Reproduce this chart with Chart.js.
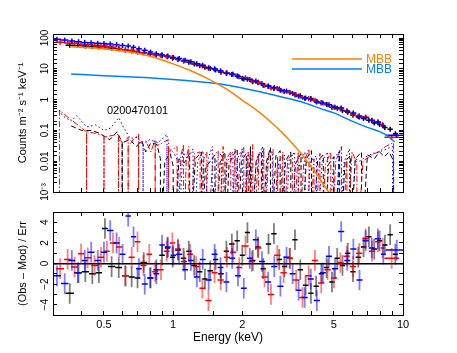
<!DOCTYPE html>
<html>
<head>
<meta charset="utf-8">
<script src="https://cdn.jsdelivr.net/npm/chart.js@4/dist/chart.umd.min.js"></script>
<style>
  html, body { margin: 0; padding: 0; background: #fff; }
  .wrap { position: relative; width: 457px; height: 353px; }
  canvas { position: absolute; left: 0; }
  #spec { top: 0; }
  #resid { top: 200px; }
</style>
</head>
<body>
<div class="wrap">
  <canvas id="spec" width="457" height="200"></canvas>
  <canvas id="resid" width="457" height="153"></canvas>
</div>
<script>
const FONT = "'Liberation Sans', Arial, Helvetica, sans-serif";
const INK = "#000";
const FLOOR = 1e-5; // empty background bins fall below the axis

// axis ticks
const xTicks = [0.5, 1, 2, 5, 10];
const xTickLabels = ["0.5", "1", "2", "5", "10"];
const specTicks = [0.001, 0.01, 0.1, 1, 10, 100];
const specTickLabels = ["10⁻³", "0.01", "0.1", "1", "10", "100"];
const residTicks = [-4, -2, 0, 2, 4];
const residTickLabels = ["−4", "−2", "0", "2", "4"];

const obsId = "0200470101";
const modelNames = ["MBB", "MBB"];
const modelColors = ["rgb(255,128,0)", "rgb(0,128,255)"];

// black spectrum: bin edges (keV), counts, residuals
const blackEdges = [0.34, 0.37, 0.40, 0.43, 0.46, 0.49, 0.52, 0.56, 0.60, 0.64,
  0.68, 0.72, 0.77, 0.82, 0.87, 0.92, 0.97, 1.02, 1.08, 1.14,
  1.20, 1.27, 1.34, 1.41, 1.49, 1.57, 1.66, 1.75, 1.85, 1.95,
  2.05, 2.16, 2.28, 2.40, 2.53, 2.67, 2.82, 2.97, 3.13, 3.30,
  3.48, 3.67, 3.87, 4.08, 4.30, 4.53, 4.78, 5.04, 5.31, 5.60,
  5.90, 6.22, 6.56, 6.92, 7.30, 7.70, 8.12, 8.56, 9.03, 9.50];
const blackFlux = [58, 57, 55, 53, 51, 52, 47, 45, 41, 38,
  35, 33.5, 30, 28, 26.5, 24.5, 22, 20, 18, 16.3,
  14.2, 12.8, 11.3, 10.2, 9.2, 7.8, 7.3, 6.5, 5.8, 4.9,
  4.6, 3.8, 3.5, 2.9, 2.75, 2.3, 2.2, 1.85, 1.7, 1.45,
  1.33, 1.12, 1.08, 0.88, 0.8, 0.7, 0.57, 0.52, 0.44, 0.39,
  0.31, 0.28, 0.245, 0.215, 0.175, 0.155, 0.125, 0.11, 0.078];
const blackResid = [-2.9, -0.9, -0.8, -1.0, -0.9, 3.4, -0.3, -0.4, -1.2, -1.3,
  -1.4, 0.1, -1.4, -0.6, 0.8, 1.5, 0.6, 1.3, 0.5, 1.2,
  -0.2, -0.8, -1.5, -0.7, 0.4, -1.0, 1.2, 1.9, 2.2, 0.8,
  3.0, 0.3, 1.6, -0.5, 1.9, 2.9, 0.4, -0.3, 0.5, 2.3,
  -0.6, -2.1, -2.9, -2.2, -1.0, -0.4, -1.8, 0.5, -0.2, 1.0,
  -0.8, 0.6, 1.6, 2.6, 1.4, 2.2, 1.8, 2.8, 0.9];

// red spectrum
const redEdges = [0.31, 0.335, 0.36, 0.385, 0.41, 0.44, 0.47, 0.50, 0.53, 0.565,
  0.60, 0.64, 0.68, 0.72, 0.765, 0.81, 0.86, 0.91, 0.965, 1.02,
  1.08, 1.15, 1.22, 1.30, 1.38, 1.47, 1.56, 1.66, 1.77, 1.88,
  2.00, 2.13, 2.27, 2.42, 2.58, 2.75, 2.93, 3.12, 3.32, 3.54,
  3.77, 4.01, 4.27, 4.55, 4.85, 5.17, 5.51, 5.87, 6.25, 6.66,
  7.10, 7.57, 8.0, 8.3, 9.6];
const redFlux = [73, 69, 67, 63, 60, 58, 55, 53, 50, 46,
  41, 40, 37, 33, 31.5, 28.5, 27, 25.5, 23.5, 20.8,
  18.4, 16.6, 14.3, 12.3, 10.4, 9.6, 8.1, 7.4, 6.6, 5.5,
  5.1, 4.1, 3.7, 2.9, 2.4, 2.3, 1.85, 1.72, 1.42, 1.18,
  1.08, 0.95, 0.78, 0.68, 0.57, 0.5, 0.43, 0.34, 0.3, 0.27,
  0.215, 0.19, 0.155, 0.06];
const redResid = [-0.5, 0.4, -0.35, 0.95, 0.55, -0.2, 0.6, 1.2, 2.0, 1.6,
  -1.2, 0.6, 2.1, -0.2, 0.9, -0.8, -0.6, 1.2, 2.0, 1.4,
  0.2, 0.9, -0.3, -2.4, -3.6, -0.9, -1.6, 0.6, 1.1, -0.4,
  1.7, 0.2, 1.5, -1.3, -3.0, 0.8, -0.9, 0.5, -1.6, -3.3,
  -1.2, 0.3, -1.9, -0.6, -1.4, 0.1, 0.7, -0.3, 1.0, 2.4,
  1.2, 2.1, 1.5, 0.5];

// blue spectrum
const blueEdges = [0.30, 0.325, 0.35, 0.375, 0.40, 0.425, 0.455, 0.485, 0.515, 0.55,
  0.585, 0.62, 0.655, 0.69, 0.73, 0.775, 0.82, 0.87, 0.92, 0.975,
  1.03, 1.095, 1.16, 1.23, 1.305, 1.385, 1.47, 1.56, 1.655, 1.755,
  1.86, 1.97, 2.09, 2.22, 2.36, 2.51, 2.67, 2.84, 3.02, 3.21,
  3.41, 3.62, 3.85, 4.09, 4.35, 4.62, 4.91, 5.22, 5.55, 5.90,
  6.27, 6.67, 7.09, 7.54, 8.02, 8.4, 10.5];
const blueFlux = [92, 86, 80, 76, 72, 70, 68, 66, 64, 61,
  57, 55, 50, 45, 40, 35, 31, 28.5, 26, 23.5,
  21.5, 18.8, 16.8, 14.5, 13.0, 10.9, 10.0, 8.6, 7.2, 6.7,
  5.7, 4.7, 4.5, 4.0, 3.3, 2.7, 2.45, 2.0, 1.9, 1.6,
  1.3, 1.1, 1.02, 0.83, 0.77, 0.68, 0.56, 0.53, 0.42, 0.37,
  0.27, 0.26, 0.21, 0.185, 0.14, 0.07];
const blueResid = [-1.2, -1.95, 0.3, -0.9, 0.3, 1.1, 0.3, 1.1, 3.2, 2.0,
  0.9, 4.6, 2.6, -0.5, -2.0, -1.4, -1.0, 1.8, 1.6, 0.8,
  0.9, -0.6, 0.3, -1.3, 0.4, -1.6, 0.9, -0.4, -1.8, 0.5,
  -1.2, -2.4, 0.5, 2.3, 0.2, -1.8, -0.3, -2.2, 0.6, -1.0,
  -2.6, -3.3, -1.5, -3.6, -0.9, 0.7, -0.5, 3.1, 0.3, 1.4,
  -1.6, 2.2, 1.5, 2.4, 0.9, 1.3];

// model components
const mbb1E = [0.36, 0.45, 0.55, 0.65, 0.8, 1.0, 1.2, 1.4, 1.6, 1.8, 2.0, 2.25,
  2.5, 2.75, 3.0, 3.25, 3.5, 3.75, 4.0, 4.25, 4.5, 4.75, 5.0];
const mbb1V = [52, 47, 41, 35, 25, 14.5, 8.5, 5.0, 2.9, 1.7, 0.95, 0.52,
  0.28, 0.15, 0.08, 0.043, 0.023, 0.012, 0.0065, 0.0035, 0.0018, 0.001, 0.00052];
const mbb2E = [0.36, 0.5, 0.7, 1.0, 1.3, 1.6, 2.0, 2.5, 3.0, 3.6, 4.36, 5.0,
  6.0, 7.0, 8.0, 8.6, 9.2];
const mbb2V = [6.8, 6.0, 5.3, 4.5, 3.8, 3.2, 2.4, 1.65, 1.2, 0.85, 0.52, 0.37,
  0.2, 0.125, 0.088, 0.065, 0.042];

// background spectra (0 = empty bin)
const bkgRedE = [0.32, 0.32, 0.36, 0.40, 0.42, 0.42, 0.42, 0.46, 0.50, 0.50,
  0.50, 0.55, 0.578, 0.578, 0.578, 0.61, 0.637, 0.637, 0.637, 0.67,
  0.707, 0.707, 0.707, 0.76, 0.80, 0.835, 0.835, 0.835, 0.90, 0.954,
  0.954, 0.954, 1.0, 1.04, 1.04, 1.08, 1.11, 1.11, 1.14, 1.17,
  1.17, 1.24, 1.31, 1.31, 1.36, 1.40, 1.40, 1.49, 1.57, 1.57,
  1.65, 1.65, 1.71, 1.78, 1.78, 1.86, 1.86, 1.95, 2.03, 2.03,
  2.12, 2.12, 2.22, 2.22, 2.35, 2.35, 2.48, 2.48, 2.6, 2.72,
  2.72, 2.85, 2.85, 3.0, 3.0, 3.15, 3.3, 3.3, 3.5, 3.5,
  3.7, 3.9, 3.9, 4.1, 4.1, 4.35, 4.35, 4.6, 4.85, 4.85,
  5.1, 5.4, 5.4, 5.7, 5.7, 6.0, 6.3, 6.3, 6.7, 7.2,
  7.8, 8.4, 9.1, 9.1];
const bkgRedV = [0, 0.45, 0.22, 0.12, 0.09, 0, 0.09, 0.08, 0.065, 0,
  0.06, 0.07, 0.075, 0, 0.05, 0.04, 0.06, 0, 0.03, 0.05,
  0.075, 0, 0.04, 0.045, 0.02, 0.05, 0, 0.03, 0.04, 0.05,
  0, 0.02, 0.025, 0.03, 0, 0.015, 0.035, 0, 0.012, 0.03,
  0, 0.018, 0.02, 0, 0.012, 0.02, 0, 0.014, 0.022, 0,
  0.03, 0, 0.012, 0.02, 0, 0.025, 0, 0.012, 0.03, 0,
  0.02, 0, 0.035, 0, 0.018, 0, 0.028, 0, 0.015, 0.024,
  0, 0.014, 0, 0.02, 0, 0.012, 0.016, 0, 0.02, 0,
  0.009, 0.025, 0, 0.012, 0, 0.018, 0, 0.008, 0.02, 0,
  0.01, 0.03, 0, 0.012, 0, 0.02, 0.009, 0, 0.01, 0.015,
  0.02, 0.03, 0.04, 0];

const bkgBlackE = [0.36, 0.40, 0.44, 0.48, 0.53, 0.57, 0.60, 0.60, 0.60, 0.65,
  0.69, 0.73, 0.76, 0.80, 0.85, 0.88, 0.88, 0.92, 0.97, 1.0,
  1.0, 1.06, 1.12, 1.18, 1.18, 1.25, 1.33, 1.33, 1.38, 1.45,
  1.52, 1.52, 1.6, 1.68, 1.68, 1.75, 1.82, 1.9, 1.9, 1.98,
  2.08, 2.08, 2.17, 2.17, 2.3, 2.42, 2.42, 2.55, 2.65, 2.65,
  2.8, 2.92, 2.92, 3.08, 3.25, 3.25, 3.4, 3.6, 3.6, 3.8,
  4.0, 4.0, 4.25, 4.5, 4.5, 4.75, 5.0, 5.0, 5.3, 5.3,
  5.6, 5.9, 5.9, 6.2, 6.6, 6.6, 7.0, 7.5, 7.9, 8.3,
  8.7, 9.1, 9.1];
const bkgBlackV = [0.14, 0.1, 0.1, 0.08, 0.05, 0.09, 0.04, 0, 0.04, 0.05,
  0.03, 0.045, 0.02, 0.04, 0.035, 0.012, 0, 0.01, 0.018, 0.007,
  0, 0.012, 0.009, 0.018, 0, 0.012, 0.02, 0, 0.006, 0.01,
  0.016, 0, 0.009, 0.02, 0, 0.008, 0.015, 0.025, 0, 0.01,
  0.018, 0, 0.03, 0, 0.012, 0.02, 0, 0.01, 0.028, 0,
  0.015, 0.022, 0, 0.01, 0.02, 0, 0.008, 0.018, 0, 0.012,
  0.022, 0, 0.01, 0.016, 0, 0.008, 0.014, 0, 0.022, 0,
  0.01, 0.015, 0, 0.012, 0.02, 0, 0.016, 0.012, 0.02, 0.014,
  0.02, 0.01, 0];

const bkgBlueE = [0.32, 0.33, 0.36, 0.38, 0.42, 0.46, 0.50, 0.535, 0.58, 0.61,
  0.65, 0.70, 0.74, 0.74, 0.74, 0.79, 0.86, 0.94, 0.94, 0.94,
  1.0, 1.05, 1.05, 1.1, 1.16, 1.22, 1.22, 1.28, 1.35, 1.35,
  1.42, 1.48, 1.48, 1.55, 1.62, 1.62, 1.72, 1.82, 1.82, 1.9,
  2.0, 2.0, 2.1, 2.18, 2.18, 2.3, 2.45, 2.45, 2.58, 2.7,
  2.7, 2.88, 3.05, 3.05, 3.2, 3.38, 3.38, 3.55, 3.75, 3.75,
  3.95, 4.2, 4.2, 4.45, 4.7, 4.7, 5.0, 5.25, 5.25, 5.55,
  5.85, 5.85, 6.2, 6.5, 6.9, 7.4, 7.9, 8.5, 9.0, 9.0];
const bkgBlueV = [0.46, 0.3, 0.2, 0.3, 0.13, 0.15, 0.1, 0.12, 0.26, 0.12,
  0.055, 0.06, 0.03, 0, 0.035, 0.05, 0.04, 0.075, 0, 0.03,
  0.02, 0.01, 0, 0.02, 0.012, 0.025, 0, 0.01, 0.022, 0,
  0.012, 0.03, 0, 0.012, 0.018, 0, 0.01, 0.02, 0, 0.012,
  0.025, 0, 0.014, 0.02, 0, 0.01, 0.03, 0, 0.012, 0.02,
  0, 0.01, 0.016, 0, 0.012, 0.02, 0, 0.008, 0.02, 0,
  0.01, 0.015, 0, 0.01, 0.02, 0, 0.012, 0.02, 0, 0.01,
  0.025, 0, 0.012, 0.01, 0.014, 0.018, 0.02, 0.025, 0.03, 0];

// ---------- helpers ----------
function pickLabel(ticks, labels) {
  return (value) => {
    const i = ticks.findIndex((t) => Math.abs(value - t) <= Math.abs(t) * 1e-6 + 1e-9);
    return i === -1 ? "" : labels[i];
  };
}

function centers(edges) {
  return edges.slice(0, -1).map((e, i) => Math.sqrt(e * edges[i + 1]));
}

function binBars(edges, vals) {
  const pts = [];
  vals.forEach((v, i) => {
    pts.push({ x: edges[i], y: v }, { x: edges[i + 1], y: v }, { x: edges[i + 1], y: null });
  });
  return pts;
}

// residuals are in units of sigma, so each bar spans +-1
function sigmaBars(edges, vals) {
  const c = centers(edges);
  const pts = [];
  vals.forEach((v, i) => {
    pts.push({ x: c[i], y: v - 1 }, { x: c[i], y: v + 1 }, { x: c[i], y: null });
  });
  return pts;
}

function curve(es, vs) {
  return es.map((e, i) => ({ x: e, y: vs[i] > 0 ? vs[i] : FLOOR }));
}

function lineSet(data, color, width, order, extra) {
  return Object.assign({
    type: "line",
    data,
    borderColor: color,
    borderWidth: width,
    pointRadius: 0,
    pointHoverRadius: 0,
    fill: false,
    tension: 0,
    spanGaps: false,
    order,
  }, extra || {});
}

function markSet(edges, flux, color, order) {
  const c = centers(edges);
  return {
    type: "line",
    data: c.map((x, i) => ({ x, y: flux[i] })),
    showLine: false,
    pointStyle: "line",
    pointRotation: 90,
    pointRadius: 2.5,
    pointHoverRadius: 0,
    pointBorderWidth: 1.5,
    pointBorderColor: color,
    pointBackgroundColor: color,
    order,
  };
}

function frame(type, position, min, max, step) {
  const horizontal = position === "top" || position === "bottom";
  return {
    type,
    position,
    min,
    max,
    border: { display: true, color: INK, width: 1 },
    grid: { drawOnChartArea: false, drawTicks: true, tickLength: -4, color: INK, tickColor: INK },
    ticks: { display: false, autoSkip: false, stepSize: step, maxRotation: 0, minRotation: 0 },
    afterFit(scale) {
      if (horizontal) scale.height = 0;
      else scale.width = 0;
    },
  };
}

const specNotes = {
  id: "specNotes",
  afterDraw(chart) {
    const { ctx, chartArea, scales } = chart;
    ctx.save();
    ctx.fillStyle = INK;
    ctx.font = `11px ${FONT}`;
    ctx.textAlign = "center";
    ctx.textBaseline = "middle";
    ctx.fillText(obsId, scales.x.getPixelForValue(0.70), scales.y.getPixelForValue(0.42));

    ctx.font = `12px ${FONT}`;
    ctx.textAlign = "left";
    modelNames.forEach((name, i) => {
      const y = chartArea.top + 25 + i * 10;
      ctx.strokeStyle = modelColors[i];
      ctx.lineWidth = 1.5;
      ctx.beginPath();
      ctx.moveTo(chartArea.right - 111, y);
      ctx.lineTo(chartArea.right - 41, y);
      ctx.stroke();
      ctx.fillStyle = modelColors[i];
      ctx.fillText(name, chartArea.right - 37, y + 0.5);
    });
    ctx.restore();
  },
};

// ---------- spectrum panel ----------
const specX = frame("logarithmic", "bottom", 0.3, 10);
const specY = {
  type: "logarithmic",
  position: "left",
  min: 0.001,
  max: 135,
  border: { display: true, color: INK, width: 1 },
  grid: { drawOnChartArea: false, drawTicks: true, tickLength: -4, color: INK, tickColor: INK },
  ticks: {
    autoSkip: false,
    color: INK,
    font: { family: FONT, size: 10 },
    minRotation: 90,
    maxRotation: 90,
    crossAlign: "center",
    padding: 2,
    callback: pickLabel(specTicks, specTickLabels),
  },
  title: {
    display: true,
    text: "Counts m⁻² s⁻¹ keV⁻¹",
    color: INK,
    font: { family: FONT, size: 11 },
    padding: { top: 16, bottom: 0 },
  },
  afterFit(scale) { scale.width = 53; },
};

new Chart(document.getElementById("spec"), {
  type: "line",
  data: {
    datasets: [
      lineSet(curve(mbb1E, mbb1V), modelColors[0], 1.5, 1, { cubicInterpolationMode: "monotone" }),
      lineSet(curve(mbb2E, mbb2V), modelColors[1], 1.5, 1, { cubicInterpolationMode: "monotone" }),
      lineSet(binBars(blueEdges, blueFlux), "#0000ff", 1.5, 3),
      markSet(blueEdges, blueFlux, "#0000ff", 3),
      lineSet(binBars(redEdges, redFlux), "#ff0000", 1.5, 4),
      markSet(redEdges, redFlux, "#ff0000", 4),
      lineSet(binBars(blackEdges, blackFlux), INK, 1.5, 5),
      markSet(blackEdges, blackFlux, INK, 5),
      lineSet(curve(bkgBlueE, bkgBlueV), "#0000ff", 1, 6, { borderDash: [1.5, 2.5] }),
      lineSet(curve(bkgRedE, bkgRedV), "#ff0000", 1, 6, { borderDash: [6, 2, 1.5, 2] }),
      lineSet(curve(bkgBlackE, bkgBlackV), INK, 1, 6, { borderDash: [5, 3] }),
    ],
  },
  options: {
    responsive: false,
    animation: false,
    devicePixelRatio: 1,
    events: [],
    layout: { padding: { top: 34, right: 54, bottom: 5, left: 0 } },
    plugins: { legend: { display: false }, tooltip: { enabled: false } },
    scales: {
      x: specX,
      x2: frame("logarithmic", "top", 0.3, 10),
      y: specY,
      y2: frame("logarithmic", "right", 0.001, 135),
    },
  },
  plugins: [specNotes],
});

// ---------- residual panel ----------
new Chart(document.getElementById("resid"), {
  type: "line",
  data: {
    datasets: [
      lineSet(binBars(blueEdges, blueResid), "#0000ff", 1.5, 1),
      lineSet(sigmaBars(blueEdges, blueResid), "rgba(0,0,255,0.5)", 1.8, 2),
      lineSet(binBars(redEdges, redResid), "#ff0000", 1.5, 3),
      lineSet(sigmaBars(redEdges, redResid), "rgba(255,0,0,0.5)", 1.8, 4),
      lineSet(binBars(blackEdges, blackResid), INK, 1.5, 5),
      lineSet(sigmaBars(blackEdges, blackResid), "rgba(0,0,0,0.5)", 1.8, 6),
    ],
  },
  options: {
    responsive: false,
    animation: false,
    devicePixelRatio: 1,
    events: [],
    layout: { padding: { top: 9, right: 54, bottom: 0, left: 0 } },
    plugins: { legend: { display: false }, tooltip: { enabled: false } },
    scales: {
      x: {
        type: "logarithmic",
        position: "bottom",
        min: 0.3,
        max: 10,
        border: { display: true, color: INK, width: 1 },
        grid: { drawOnChartArea: false, drawTicks: true, tickLength: -4, color: INK, tickColor: INK },
        ticks: {
          autoSkip: false,
          color: INK,
          font: { family: FONT, size: 11 },
          maxRotation: 0,
          minRotation: 0,
          padding: 7,
          callback: pickLabel(xTicks, xTickLabels),
        },
        title: {
          display: true,
          text: "Energy (keV)",
          color: INK,
          font: { family: FONT, size: 12 },
          padding: { top: 0, bottom: 8 },
        },
        afterFit(scale) { scale.height = 38; },
      },
      x2: frame("logarithmic", "top", 0.3, 10),
      y: {
        type: "linear",
        position: "left",
        min: -5,
        max: 5,
        z: 1,
        border: { display: true, color: INK, width: 1 },
        grid: {
          drawOnChartArea: true,
          drawTicks: true,
          tickLength: -4,
          tickColor: INK,
          tickWidth: 1,
          color: (ctx) => (ctx.tick && ctx.tick.value === 0 ? INK : "rgba(0,0,0,0)"),
          lineWidth: (ctx) => (ctx.tick && ctx.tick.value === 0 ? 1.5 : 1),
        },
        ticks: {
          autoSkip: false,
          stepSize: 1,
          color: INK,
          font: { family: FONT, size: 10 },
          minRotation: 90,
          maxRotation: 90,
          crossAlign: "center",
          padding: 6,
          callback: pickLabel(residTicks, residTickLabels),
        },
        title: {
          display: true,
          text: "(Obs – Mod) / Err",
          color: INK,
          font: { family: FONT, size: 11 },
          padding: { top: 16, bottom: 0 },
        },
        afterFit(scale) { scale.width = 53; },
      },
      y2: frame("linear", "right", -5, 5, 1),
    },
  },
});
</script>
</body>
</html>
